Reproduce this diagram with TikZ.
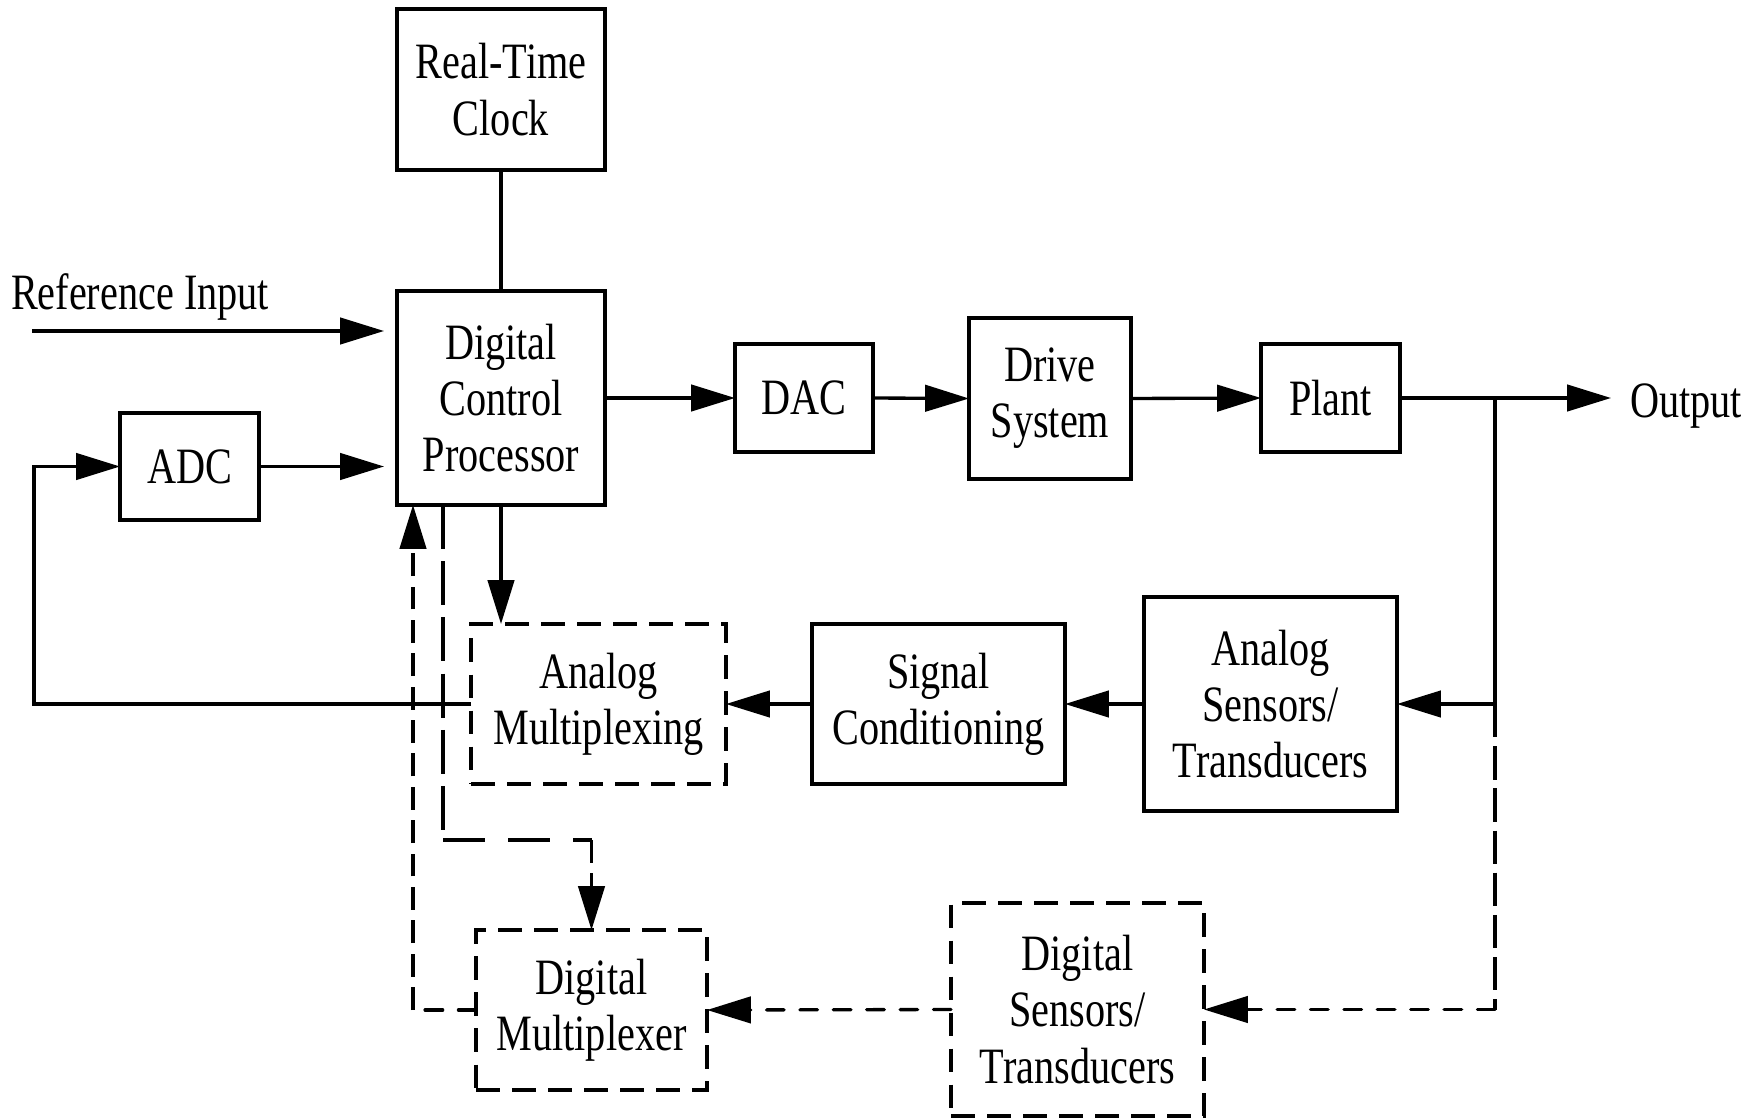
\documentclass[tikz,border=0pt]{standalone}
\usepackage{fontspec}
\setmainfont[FakeStretch=0.79]{Liberation Serif}
\usetikzlibrary{arrows.meta}
\tikzset{
  lbl/.style={font=\fontsize{29}{32}\selectfont, align=center, inner sep=0pt, outer sep=0pt},
  blk/.style={lbl, draw, line width=1.9pt},
  dblk/.style={blk, dash pattern=on 13.5pt off 7pt},
  wire/.style={line width=1.9pt},
  conn/.style={wire, -{Triangle[length=25pt,width=15pt]}},
  hdash/.style={line cap=round, dash pattern=on 10pt off 9pt},
  vdash/.style={dash pattern=on 13pt off 6pt},
  bdash/.style={dash pattern=on 19pt off 5pt},
  ldash/.style={dash pattern=on 25pt off 7pt},
  lhdash/.style={dash pattern=on 24pt off 13pt},
}
\begin{document}
\begin{tikzpicture}[x=0.02cm,y=-0.02cm]
\useasboundingbox (0,0) rectangle (1764,1118);
% blocks
\node[blk, minimum width=4.16cm, minimum height=3.22cm] (clock) at (501,89.5) {Real-Time\\Clock};
\node[blk, minimum width=4.16cm, minimum height=4.28cm] (proc) at (501,398) {Digital\\Control\\Processor};
\node[blk, minimum width=2.78cm, minimum height=2.14cm] (adc) at (189.5,466.5) {ADC};
\node[blk, minimum width=2.76cm, minimum height=2.16cm] (dac) at (804,398) {DAC};
\node[blk, minimum width=3.24cm, minimum height=3.22cm] (drive) at (1050,398.5) {Drive\\System};
\node[blk, minimum width=2.78cm, minimum height=2.16cm] (plant) at (1330.5,398) {Plant};
\node[blk, minimum width=5.06cm, minimum height=4.28cm] (asens) at (1270.5,704) {Analog\\Sensors/\\Transducers};
\node[blk, minimum width=5.06cm, minimum height=3.2cm] (sigc) at (938.5,704) {Signal\\Conditioning};
\node[dblk, minimum width=5.1cm, minimum height=3.2cm] (amux) at (598.5,704) {Analog\\Multiplexing};
\node[dblk, minimum width=4.62cm, minimum height=3.2cm] (dmux) at (591.5,1010) {Digital\\Multiplexer};
\node[dblk, minimum width=5.06cm, minimum height=4.26cm] (dsens) at (1077.5,1009.5) {Digital\\Sensors/\\Transducers};
% labels
\node[lbl, anchor=base west] (reflbl) at (11,310) {Reference Input};
\node[lbl, anchor=base west] (outlbl) at (1630,418) {Output};
% coordinates
\coordinate (refS) at (32,331);
\coordinate (fb) at (34,704);
\coordinate (outE) at (1611,398);
\coordinate (br) at (1495,398);
\coordinate (dnL) at (413,1010);
\coordinate (dnR) at (443,505);
\coordinate (dnC) at (443,840);
\coordinate (dnD) at (591.5,840);
% connectors
\draw[conn, shorten >=7.4pt] (refS) -- (refS -| proc.west);
\draw[conn, shorten >=7.4pt] (adc.east) -- (adc.east -| proc.west);
\draw[conn] (amux.west) -- (fb) |- (adc.west);
\draw[wire] (clock.south) -- (proc.north);
\draw[conn] (proc.south) -- (proc.south |- amux.north);
\draw[conn] (proc.east) -- (dac.west);
\draw[conn] (dac.east) -- (drive.west);
\draw[conn] (drive.east) -- (plant.west);
\draw[conn] (plant.east) -- (outE);
\draw[conn] (br) |- (asens.east);
\draw[wire, bdash] (br |- asens.east) -- (br |- dsens.east);
\draw[conn, hdash] (br |- dsens.east) -- (dsens.east);
\draw[conn] (asens.west) -- (sigc.east);
\draw[conn] (sigc.west) -- (amux.east);
\draw[conn, hdash] (dsens.west) -- (dmux.east);
\draw[wire, hdash] (dmux.west) -- (dnL);
\draw[conn, vdash] (dnL) -- (dnL |- proc.south);
\draw[wire, ldash] (dnR) -- (dnC);
\draw[wire, lhdash] (dnC) -- (dnD);
\draw[conn, vdash] (dnD) -- (dmux.north);
\end{tikzpicture}
\end{document}
